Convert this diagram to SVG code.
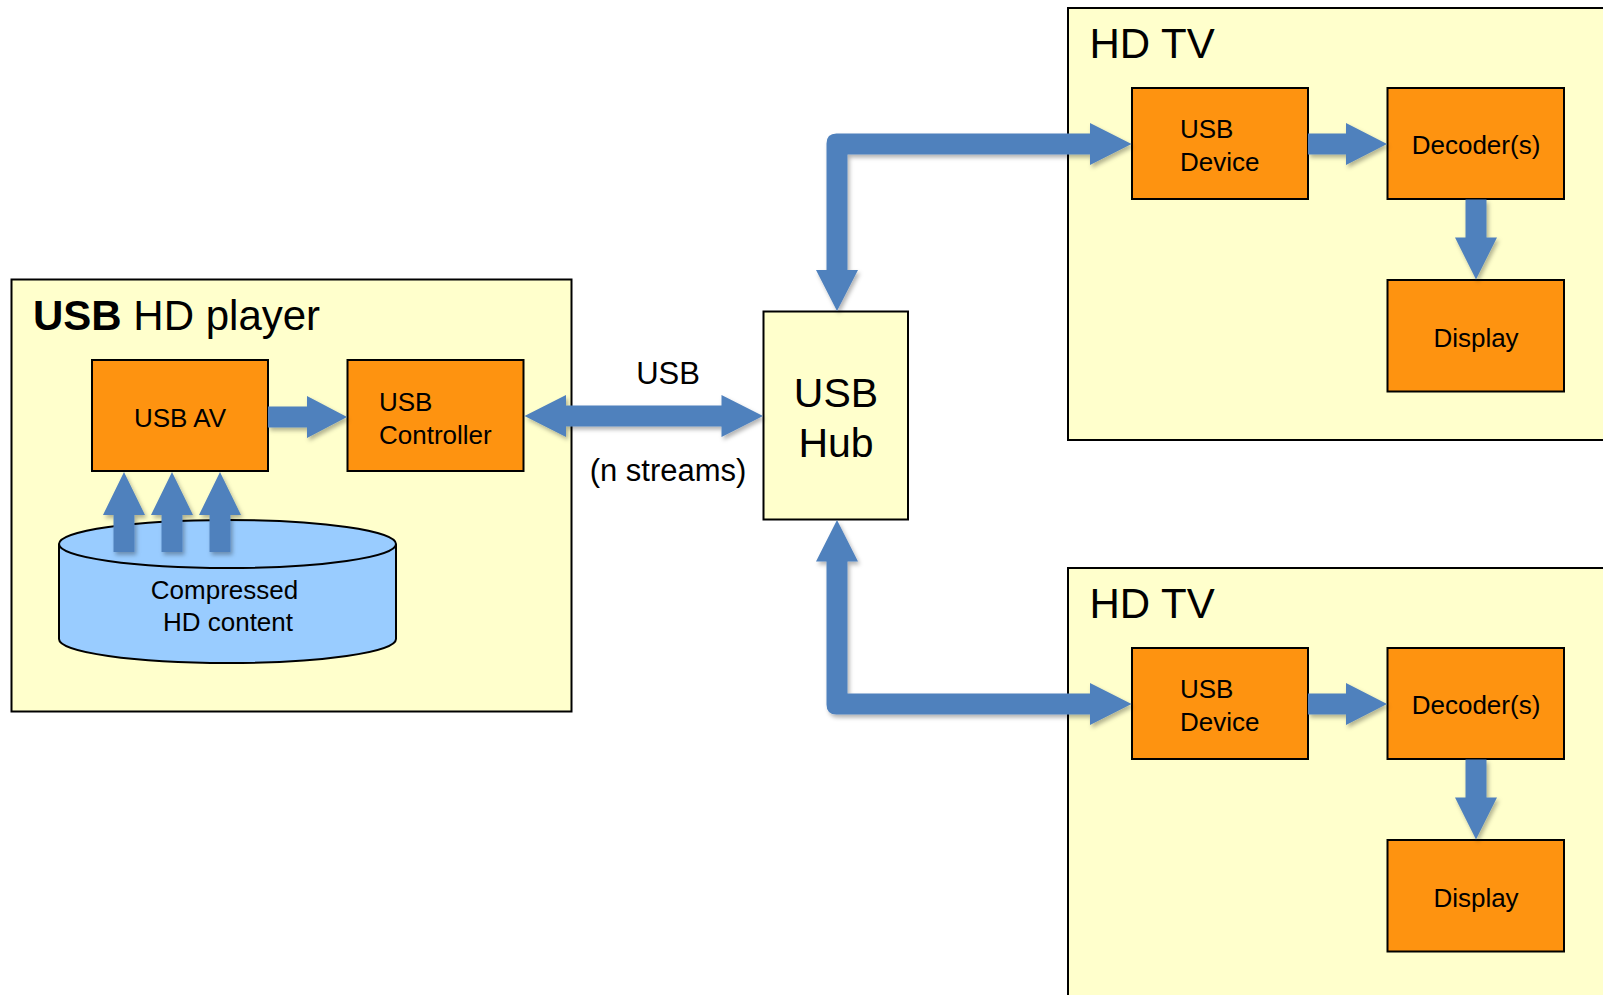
<svg xmlns="http://www.w3.org/2000/svg" width="1603" height="995" viewBox="0 0 1603 995">
  <style>
    .container { fill: #FFFFCC; stroke: #000; stroke-width: 2; }
    .block { fill: #FE9310; stroke: #000; stroke-width: 2; }
    .store { fill: #99CCFF; stroke: #000; stroke-width: 2; }
    .arrow { fill: #4F81BD; stroke: none; filter: url(#shadow); }
    text { font-family: "Liberation Sans", Arial, Helvetica, sans-serif; fill: #000; }
    .title { font-size: 42px; }
    .label { font-size: 26px; }
    .mid { text-anchor: middle; }
    .edge-label { font-size: 31px; }
    .hub-label { font-size: 41px; }
  </style>
  <defs>
    <filter id="shadow" x="-20%" y="-20%" width="140%" height="140%">
      <feDropShadow dx="2" dy="3" stdDeviation="2" flood-color="#000" flood-opacity="0.3"/>
    </filter>
  </defs>
  <rect width="1603" height="995" fill="#fff"/>

  <!-- Player -->
  <g id="player">
    <rect class="container" x="11.5" y="279.5" width="560" height="432"/>
    <text class="title" x="33" y="330"><tspan font-weight="bold">USB</tspan> HD player</text>
  </g>
  <g id="usb-av">
    <rect class="block" x="92" y="360" width="176" height="111"/>
    <text class="label mid" x="180" y="427">USB AV</text>
  </g>
  <g id="usb-controller">
    <rect class="block" x="347.5" y="360" width="176" height="111"/>
    <text class="label" x="379" y="411">USB</text>
    <text class="label" x="379" y="443.5">Controller</text>
  </g>
  <g id="content-store">
    <path class="store" d="M59,544 V639 A168.5,24 0 0 0 396,639 V544"/>
    <ellipse class="store" cx="227.5" cy="544" rx="168.5" ry="24"/>
    <text class="label mid" x="224.5" y="599">Compressed</text>
    <text class="label mid" x="228" y="631">HD content</text>
  </g>

  <!-- Hub -->
  <g id="usb-hub">
    <rect class="container" x="763.5" y="311.5" width="144.5" height="208"/>
    <text class="hub-label mid" x="836" y="406.5">USB</text>
    <text class="hub-label mid" x="836" y="456.5">Hub</text>
  </g>

  <!-- First TV -->
  <g id="tv-1">
    <rect class="container" x="1068" y="8" width="600" height="432"/>
    <text class="title" x="1089.5" y="58">HD TV</text>
  </g>
  <g id="tv-1-usb-device">
    <rect class="block" x="1132" y="88" width="176" height="111"/>
    <text class="label" x="1180" y="138">USB</text>
    <text class="label" x="1180" y="171">Device</text>
  </g>
  <g id="tv-1-decoder">
    <rect class="block" x="1387.5" y="88" width="176.5" height="111"/>
    <text class="label mid" x="1476" y="154">Decoder(s)</text>
  </g>
  <g id="tv-1-display">
    <rect class="block" x="1387.5" y="280" width="176.5" height="111.5"/>
    <text class="label mid" x="1476" y="346.5">Display</text>
  </g>

  <!-- Second TV -->
  <g id="tv-2">
    <rect class="container" x="1068" y="568" width="600" height="500"/>
    <text class="title" x="1089.5" y="618">HD TV</text>
  </g>
  <g id="tv-2-usb-device">
    <rect class="block" x="1132" y="648" width="176" height="111"/>
    <text class="label" x="1180" y="698">USB</text>
    <text class="label" x="1180" y="731">Device</text>
  </g>
  <g id="tv-2-decoder">
    <rect class="block" x="1387.5" y="648" width="176.5" height="111"/>
    <text class="label mid" x="1476" y="714">Decoder(s)</text>
  </g>
  <g id="tv-2-display">
    <rect class="block" x="1387.5" y="840" width="176.5" height="111.5"/>
    <text class="label mid" x="1476" y="906.5">Display</text>
  </g>

  <!-- Connectors -->
  <g id="connectors">
    <!-- storage to AV -->
    <path class="arrow" d="M113.5,552 V515 H103 L124,472 L145,515 H134.5 V552 Z"/>
    <path class="arrow" d="M161.5,552 V515 H151 L172,472 L193,515 H182.5 V552 Z"/>
    <path class="arrow" d="M209.5,552 V515 H199 L220,472 L241,515 H230.5 V552 Z"/>
    <!-- AV to controller -->
    <path class="arrow" d="M268,406.5 H307 V396 L347,417 L307,438 V427.5 H268 Z"/>
    <!-- controller to hub -->
    <path class="arrow" d="M524.5,416 L566,395 V405.5 H721.5 V395 L763,416 L721.5,437 V426.5 H566 V437 Z"/>
    <!-- hub to first TV -->
    <path class="arrow" d="M837,311 L816,270 H826.5 V143.5 Q826.5,133.5 836.5,133.5 H1090 V123 L1131.5,144 L1090,165 V154.5 H847.5 V270 H858 Z"/>
    <!-- hub to second TV -->
    <path class="arrow" d="M837,520 L858,561.5 H847.5 V693.5 H1090 V683 L1131.5,704 L1090,725 V714.5 H836.5 Q826.5,714.5 826.5,704.5 V561.5 H816 Z"/>
    <!-- first TV internals -->
    <path class="arrow" d="M1308,133.5 H1346 V123 L1387,144 L1346,165 V154.5 H1308 Z"/>
    <path class="arrow" d="M1465.5,199.5 H1486.5 V237.5 H1497 L1476,279.5 L1455,237.5 H1465.5 Z"/>
    <!-- second TV internals -->
    <path class="arrow" d="M1308,693.5 H1346 V683 L1387,704 L1346,725 V714.5 H1308 Z"/>
    <path class="arrow" d="M1465.5,759.5 H1486.5 V797.5 H1497 L1476,839.5 L1455,797.5 H1465.5 Z"/>
    <text class="edge-label mid" x="668" y="384">USB</text>
    <text class="edge-label mid" x="668" y="481">(n streams)</text>
  </g>
</svg>
